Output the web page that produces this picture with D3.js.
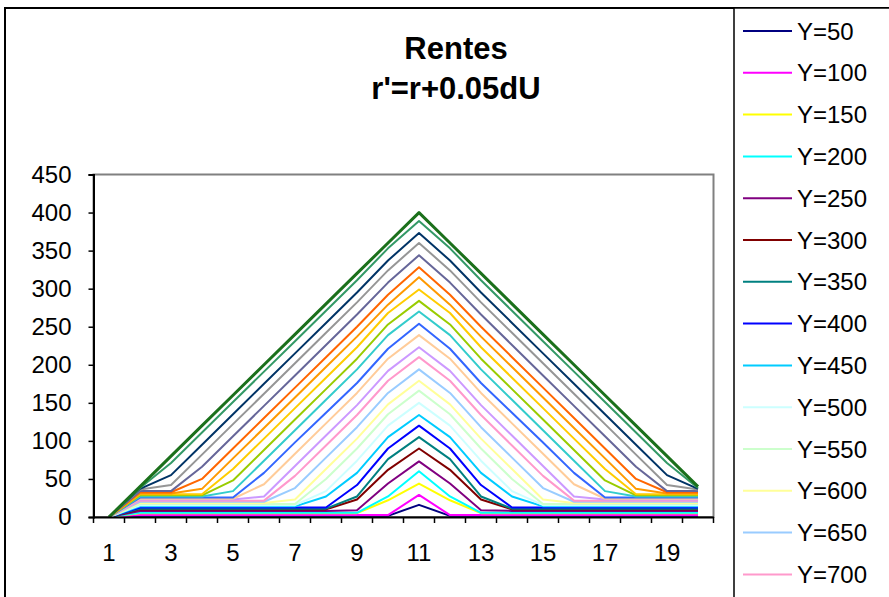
<!DOCTYPE html>
<html>
<head>
<meta charset="utf-8">
<script src="https://cdn.jsdelivr.net/npm/d3@7"></script>
<style>
  html, body { margin: 0; padding: 0; background: #fff; }
  svg { display: block; font-family: "Liberation Sans", Arial, sans-serif; }
</style>
</head>
<body>
<svg id="chart" width="889" height="597"></svg>
<script>
// ---------- DATA ----------
const categories = [1,2,3,4,5,6,7,8,9,10,11,12,13,14,15,16,17,18,19,20];
const xTickLabels = [1,3,5,7,9,11,13,15,17,19];
const yTicks = [0,50,100,150,200,250,300,350,400,450];
const titleLines = ["Rentes", "r'=r+0.05dU"];

const seriesNames = ["Y=50","Y=100","Y=150","Y=200","Y=250","Y=300","Y=350","Y=400","Y=450",
  "Y=500","Y=550","Y=600","Y=650","Y=700","Y=750","Y=800","Y=850","Y=900","Y=950","Y=1000",
  "Y=1050","Y=1100","Y=1150","Y=1200","Y=1250","Y=1300","Y=1350"];

const seriesValues = [
  [0,1.5,1.5,1.5,1.5,1.5,1.5,1.5,1.5,1.5,16,1.5,1.5,1.5,1.5,1.5,1.5,1.5,1.5,1.5],
  [0,2.5,2.5,2.5,2.5,2.5,2.5,2.5,2.5,2.5,29,2.5,2.5,2.5,2.5,2.5,2.5,2.5,2.5,2.5],
  [0,5,5,5,5,5,5,5,5,22,44,22,5,5,5,5,5,5,5,5],
  [0,5.5,5.5,5.5,5.5,5.5,5.5,5.5,5.5,27,60,27,5.5,5.5,5.5,5.5,5.5,5.5,5.5,5.5],
  [0,8,8,8,8,8,8,8,9,44,73,44,9,8,8,8,8,8,8,8],
  [0,10,10,10,10,10,10,10,23,62,90,62,23,10,10,10,10,10,10,10],
  [0,11,11,11,11,11,11,11,27,76,105,76,27,11,11,11,11,11,11,11],
  [0,12.5,12.5,12.5,12.5,12.5,12.5,12.5,42,90,120,90,42,12.5,12.5,12.5,12.5,12.5,12.5,12.5],
  [0,14,14,14,14,14,14,27,58,105,134,105,58,27,14,14,14,14,14,14],
  [0,15.5,15.5,15.5,15.5,15.5,15.5,34,74,120,150,120,74,34,15.5,15.5,15.5,15.5,15.5,15.5],
  [0,17,17,17,17,17,17,50,90,135,166,135,90,50,17,17,17,17,17,17],
  [0,18.5,18.5,18.5,18.5,18.5,23,63,103,148,179,148,103,63,23,18.5,18.5,18.5,18.5,18.5],
  [0,20,20,20,20,20,38,78,118,163,194,163,118,78,38,20,20,20,20,20],
  [0,21.5,21.5,21.5,21.5,21.5,54,94,134,179,210,179,134,94,54,21.5,21.5,21.5,21.5,21.5],
  [0,23,23,23,23,27,67,107,147,192,223,192,147,107,67,27,23,23,23,23],
  [0,24,24,24,24,43,83,123,163,208,239,208,163,123,83,43,24,24,24,24],
  [0,25.5,25.5,25.5,25.5,58,98,137,176,221,254,221,176,137,98,58,25.5,25.5,25.5,25.5],
  [0,27,27,27,34,74,114,154,194,239,270,239,194,154,114,74,34,27,27,27],
  [0,28.5,28.5,28.5,48,88,128,168,208,253,284,253,208,168,128,88,48,28.5,28.5,28.5],
  [0,30,30,30,63,103,143,183,223,268,299,268,223,183,143,103,63,30,30,30],
  [0,31,31,37,77,117,157,197,237,279,315,279,237,197,157,117,77,37,31,31],
  [0,32.5,32.5,50,90,130,170,210,250,292,328,292,250,210,170,130,90,50,32.5,32.5],
  [0,34,34,66,106,146,186,226,266,308,344,308,266,226,186,146,106,66,34,34],
  [0,36,42,82,122,162,202,242,282,324,360,324,282,242,202,162,122,82,42,36],
  [0,37,55,95,135,175,215,255,295,337,373,337,295,255,215,175,135,95,55,37],
  [0,38,71,111,151,191,231,271,311,353,389,353,311,271,231,191,151,111,71,38],
  [0,40,80,120,160,200,240,280,320,360,400,360,320,280,240,200,160,120,80,40]
];

const seriesColors = ["#000080","#FF00FF","#FFFF00","#00FFFF","#800080","#800000","#008080","#0000FF",
  "#00CCFF","#CCFFFF","#CCFFCC","#FFFF99","#99CCFF","#FF99CC","#CC99FF","#FFCC99","#3366FF","#33CCCC",
  "#99CC00","#FFCC00","#FF9900","#FF6600","#666699","#969696","#003366","#339966","#1B701B"];

// ---------- LAYOUT ----------
const W = 889, H = 597;
const plot = { left: 93.5, right: 713.5, top: 174.5, bottom: 517 };

const svg = d3.select("#chart");
svg.append("rect").attr("width", W).attr("height", H).attr("fill", "#fff");

// outer chart border
svg.append("rect").attr("x", 5).attr("y", 8).attr("width", 1000).attr("height", 1000)
  .attr("fill", "none").attr("stroke", "#000").attr("stroke-width", 2);

// scales
const x = d3.scaleBand().domain(categories).range([plot.left, plot.right]).paddingInner(0).paddingOuter(0);
const y = d3.scaleLinear().domain([0, 450]).range([plot.bottom, plot.top]);
const cx = c => x(c) + x.bandwidth() / 2;

// plot area border (gray top/right)
svg.append("rect").attr("x", plot.left).attr("y", plot.top)
  .attr("width", plot.right - plot.left).attr("height", plot.bottom - plot.top)
  .attr("fill", "none").attr("stroke", "#808080").attr("stroke-width", 2);

// title
svg.append("g").selectAll("text").data(titleLines).join("text")
  .attr("x", 456).attr("y", (d, i) => 59 + i * 40)
  .attr("text-anchor", "middle").attr("font-weight", "bold").attr("font-size", 31)
  .attr("fill", "#000").text(d => d);

// lines
const line = d3.line().x((d, i) => cx(categories[i])).y(d => y(d));
svg.append("g").selectAll("path").data(seriesValues).join("path")
  .attr("d", d => line(d))
  .attr("fill", "none")
  .attr("stroke", (d, i) => seriesColors[i])
  .attr("stroke-width", (d, i) => i === seriesValues.length - 1 ? 3 : 2)
  .attr("stroke-linejoin", "round");

// y axis
const yAxis = d3.axisLeft(y).tickValues(yTicks).tickSize(5).tickPadding(17);
const gy = svg.append("g").attr("transform", `translate(${plot.left},0)`).call(yAxis);
gy.select(".domain").attr("stroke", "#000").attr("stroke-width", 2);
gy.selectAll(".tick line").attr("stroke", "#000").attr("stroke-width", 1.5);
gy.selectAll(".tick text").attr("font-size", 24).attr("fill", "#000")
  .attr("font-family", "'Liberation Sans', Arial, sans-serif");

// x axis
const xAxis = d3.axisBottom(x).tickValues(xTickLabels).tickSize(0).tickPadding(27);
const gx = svg.append("g").attr("transform", `translate(0,${plot.bottom})`).call(xAxis);
gx.select(".domain").attr("stroke", "#000").attr("stroke-width", 2);
gx.selectAll(".tick text").attr("font-size", 24).attr("fill", "#000")
  .attr("font-family", "'Liberation Sans', Arial, sans-serif");
// tick marks at category boundaries
const boundaries = categories.map(c => x(c)).concat([plot.right]);
svg.append("g").selectAll("line").data(boundaries).join("line")
  .attr("x1", d => d).attr("x2", d => d)
  .attr("y1", plot.bottom).attr("y2", plot.bottom + 6)
  .attr("stroke", "#000").attr("stroke-width", 1.5);

// legend (only the entries that fit inside the visible frame, as in the reference)
svg.append("rect").attr("x", 734).attr("y", 8).attr("width", 300).attr("height", 1000)
  .attr("fill", "#fff").attr("stroke", "#000").attr("stroke-width", 1.5);
const legendY = i => 31 + i * 41.8;
const visibleNames = seriesNames.filter((d, i) => legendY(i) + 12 < H);
const leg = svg.append("g").selectAll("g").data(visibleNames).join("g")
  .attr("transform", (d, i) => `translate(0,${legendY(i)})`);
leg.append("line").attr("x1", 743).attr("x2", 792).attr("y1", 0).attr("y2", 0)
  .attr("stroke", (d, i) => seriesColors[i]).attr("stroke-width", 2);
leg.append("text").attr("x", 797).attr("y", 8.5).attr("font-size", 24).attr("fill", "#000")
  .text(d => d);
</script>
</body>
</html>
